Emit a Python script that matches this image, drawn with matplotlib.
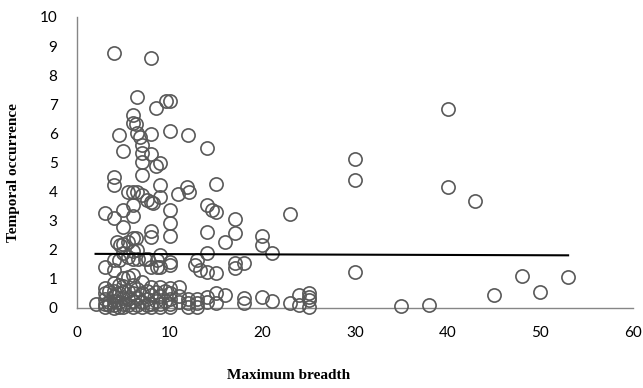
import numpy as np
import matplotlib.pyplot as plt

# values, grouped by breadth
breadth = [
    2,
    3, 3, 3, 3, 3, 3, 3,
    3.5, 3.5, 3.5,
    4, 4, 4, 4, 4, 4, 4, 4, 4, 4, 4, 4,
    4.5, 4.3, 4.5, 4.5, 4.5, 4.5, 4.5,
    5, 5, 5, 4.6, 5, 5, 5, 5, 5, 5, 5, 5,
    5.5, 5.5, 5.5, 5.5, 5.5, 5.5, 5.5,
    6, 6, 6, 6, 6, 6, 6, 6, 6, 6, 6, 6, 6,
    6.5, 6.4, 6.5, 6.5, 6.4, 6.6, 6.5, 6.5, 6.5, 6.5,
    6.8, 7, 7, 7, 7, 7, 7.3, 7, 7, 7, 7,
    7.5, 7.7, 7.5, 7.5, 7.5,
    8, 8, 8, 8, 8.2, 8, 8, 8, 8, 8, 8, 8,
    8.5, 8.5, 8.6, 8.6, 8.5, 8.5,
    9, 9, 9, 9, 9, 9, 9, 9, 9,
    9.6, 9.5, 9.5,
    10, 10, 10, 10, 10, 10, 10, 10, 10, 10, 10, 10,
    10.9, 11, 11, 11,
    12, 11.9, 12.1, 12, 12, 12,
    12.7, 13.3, 12.9, 13, 13, 13,
    14, 14, 14, 14, 14, 14, 14,
    14.6,
    15, 15, 15, 15, 15,
    16, 16,
    17, 17, 17, 17,
    18, 18, 18,
    20, 20, 20,
    21, 21,
    23, 23,
    24, 24,
    25, 25, 25, 25,
    30, 30, 30,
    35, 38,
    40, 40,
    43, 45, 48, 50, 53,
]
occurrence = [
    0.14,
    3.25, 1.42, 0.68, 0.5, 0.3, 0.15, 0.05,
    0.6, 0.2, 0.1,
    8.75, 4.51, 4.23, 3.1, 1.65, 1.3, 0.85, 0.6, 0.4, 0.25, 0.1, 0.0,
    5.94, 2.28, 1.65, 0.8, 0.5, 0.2, 0.05,
    5.41, 3.37, 2.8, 2.16, 2.19, 1.02, 0.74, 0.55, 0.35, 0.15, 0.05, 1.9,
    4.0, 2.28, 1.76, 1.08, 0.6, 0.3, 0.1,
    6.63, 6.35, 3.97, 3.16, 2.4, 1.7, 1.13, 0.8, 0.5, 0.25, 0.05, 1.95, 3.55,
    7.25, 6.32, 6.03, 3.97, 2.42, 1.7, 0.65, 0.35, 0.1, 2.0,
    5.89, 5.6, 5.32, 5.03, 4.57, 3.88, 1.7, 0.9, 0.5, 0.2, 0.05,
    3.71, 1.7, 0.6, 0.3, 0.1,
    8.6, 5.97, 5.29, 3.65, 3.62, 2.64, 2.45, 1.42, 0.73, 0.45, 0.15, 0.05,
    6.87, 4.88, 1.65, 1.42, 0.55, 0.25,
    4.97, 4.23, 3.83, 1.82, 1.42, 0.73, 0.4, 0.15, 0.05,
    7.1, 0.6, 0.25,
    7.1, 6.08, 3.37, 2.91, 2.48, 1.59, 1.48, 0.68, 0.5, 0.3, 0.15, 0.05,
    3.92, 0.73, 0.4, 0.2,
    5.94, 4.17, 4.0, 0.3, 0.16, 0.05,
    1.48, 1.3, 1.65, 0.16, 0.3, 0.05,
    5.49, 3.54, 2.62, 1.9, 1.25, 0.39, 0.22,
    3.37,
    4.26, 3.31, 1.19, 0.5, 0.16,
    2.28, 0.45,
    3.05, 2.57, 1.53, 1.36,
    1.53, 0.33, 0.16,
    2.46, 2.15, 0.39,
    1.9, 0.24,
    3.22, 0.16,
    0.45, 0.1,
    0.53, 0.39, 0.27, 0.05,
    5.11, 4.4, 1.24,
    0.07, 0.1,
    6.83, 4.15,
    3.66, 0.45, 1.11, 0.54, 1.08,
]

# linear trend line as drawn (end points)
trend_x = [2, 53]
trend_y = [1.86, 1.81]

fig = plt.figure(figsize=(6.43, 3.88), dpi=100)
ax = fig.add_axes([0.1198, 0.2062, 0.8646, 0.75])

ax.plot(breadth, occurrence, linestyle='none', marker='o', markersize=9.5,
        markerfacecolor='none', markeredgecolor='#595959', markeredgewidth=1.2,
        clip_on=False, zorder=3)
ax.plot(trend_x, trend_y, color='black', linewidth=1.5, zorder=4)

ax.set_xlim(0, 60)
ax.set_ylim(0, 10)
ax.set_xticks(np.arange(0, 61, 10))
ax.set_yticks(np.arange(0, 11, 1))

for s in ['top', 'right']:
    ax.spines[s].set_visible(False)
for s in ['left', 'bottom']:
    ax.spines[s].set_color('#868686')
    ax.spines[s].set_linewidth(1.0)

ax.tick_params(axis='x', length=0, labelsize=11, colors='black', pad=13)
ax.tick_params(axis='y', length=0, labelsize=11, colors='black', pad=14)
for lab in ax.get_xticklabels() + ax.get_yticklabels():
    lab.set_family('Lato')

ax.set_xlabel('Maximum breadth', family='Liberation Serif', fontweight='bold',
              fontsize=11)
ax.set_ylabel('Temporal occurrence', family='Liberation Serif', fontweight='bold',
              fontsize=11)
ax.xaxis.set_label_coords(0.38, -0.21)
ax.yaxis.set_label_coords(-0.1025, 0.464)

fig.savefig('out.png', dpi=100)
